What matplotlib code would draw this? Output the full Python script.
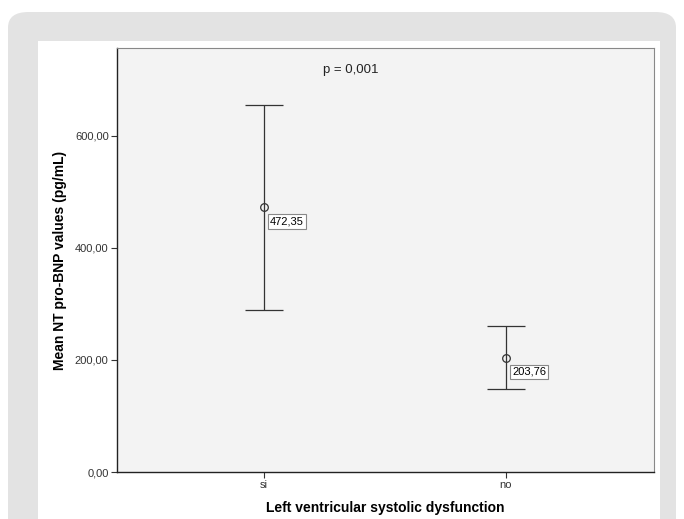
import matplotlib.pyplot as plt
from matplotlib.patches import FancyBboxPatch, Rectangle

plt.rcParams['font.family'] = ['Liberation Sans', 'DejaVu Sans']

groups = ["si", "no"]
means = [472.35, 203.76]
ci_low = [289.0, 148.0]
ci_high = [655.0, 260.0]
mean_labels = ["472,35", "203,76"]
yticks = [0, 200, 400, 600]
ytick_labels = ["0,00", "200,00", "400,00", "600,00"]

W, H = 684, 519
fig = plt.figure(figsize=(W / 100, H / 100), dpi=100)
fig.patch.set_facecolor("white")

# outer grey card and inner white panel
fig.patches.append(FancyBboxPatch((8 / W, -0.1), (W - 16) / W, 1.1 - 12 / H,
                                  boxstyle="round,pad=0,rounding_size=0.03",
                                  transform=fig.transFigure, facecolor="#e3e3e3",
                                  edgecolor="none", zorder=-3))
fig.patches.append(Rectangle((38 / W, 0), (660 - 38) / W, 1 - 41 / H,
                             transform=fig.transFigure, facecolor="white",
                             edgecolor="none", zorder=-2))

left, right, top, bottom = 117, 654, 48, 472
ax = fig.add_axes([left / W, 1 - bottom / H, (right - left) / W, (bottom - top) / H])
ax.set_facecolor("#f3f3f3")

x = list(range(len(groups)))
yerr = [[m - lo for m, lo in zip(means, ci_low)], [hi - m for m, hi in zip(means, ci_high)]]
ax.errorbar(x, means, yerr=yerr, fmt="o", ms=5.5, mfc="none", mec="#333333",
            mew=0.9, ecolor="#333333", elinewidth=0.9, capsize=13.5, capthick=0.9)

for xi, m, lab in zip(x, means, mean_labels):
    ax.annotate(lab, (xi, m), xytext=(4.5, -10), textcoords="offset points",
                fontsize=8, va="center", ha="left",
                bbox=dict(boxstyle="square,pad=0.2", fc="white", ec="#888888", lw=0.8))

ax.text(0.36, 718, "p = 0,001", fontsize=9.5, ha="center", va="center", color="#222222")

ax.set_xlim(-0.607, 1.612)
ax.set_ylim(0, 757)
ax.set_xticks(x)
ax.set_xticklabels(groups, fontsize=8, color="#333333")
ax.set_yticks(yticks)
ax.set_yticklabels(ytick_labels, fontsize=8, color="#333333")
ax.tick_params(axis="both", length=4.5, width=0.8, color="#333333", pad=1.5)

for s in ["left", "bottom"]:
    ax.spines[s].set_color("#222222")
    ax.spines[s].set_linewidth(1.0)
for s in ["top", "right"]:
    ax.spines[s].set_color("#888888")
    ax.spines[s].set_linewidth(0.8)

ax.set_ylabel("Mean NT pro-BNP values (pg/mL)", fontsize=10, fontweight="bold", labelpad=6)
ax.set_xlabel("Left ventricular systolic dysfunction", fontsize=10, fontweight="bold", labelpad=8)

fig.savefig("out.png", dpi=100)
